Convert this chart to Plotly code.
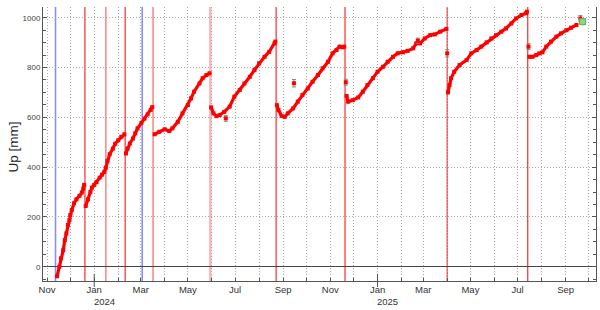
import plotly.graph_objects as go
from datetime import datetime, timedelta

# ---------------- data ----------------
dates = [
    "2023-11-14", "2023-11-17", "2023-11-19", "2023-11-22", "2023-11-24", "2023-11-26",
    "2023-11-28", "2023-11-30", "2023-12-01", "2023-12-03", "2023-12-06", "2023-12-09",
    "2023-12-13", "2023-12-16", "2023-12-18", "2023-12-19",
    "2023-12-21", "2023-12-24", "2023-12-27", "2023-12-29", "2024-01-01", "2024-01-04",
    "2024-01-08", "2024-01-11", "2024-01-14", "2024-01-16", "2024-01-18", "2024-01-21",
    "2024-01-25", "2024-01-28", "2024-02-01", "2024-02-05", "2024-02-09",
    "2024-02-11", "2024-02-13", "2024-02-16", "2024-02-20", "2024-02-23", "2024-02-26",
    "2024-03-02", "2024-03-06", "2024-03-10", "2024-03-14", "2024-03-16",
    "2024-03-19", "2024-03-25", "2024-04-01", "2024-04-07", "2024-04-11", "2024-04-18",
    "2024-04-24", "2024-05-01", "2024-05-05", "2024-05-09", "2024-05-16", "2024-05-20",
    "2024-05-25", "2024-05-29",
    "2024-05-31", "2024-06-03", "2024-06-07", "2024-06-11", "2024-06-17", "2024-06-24",
    "2024-06-30", "2024-07-07", "2024-07-13", "2024-07-20", "2024-07-26", "2024-08-01",
    "2024-08-08", "2024-08-14", "2024-08-21", "2024-08-22",
    "2024-08-24", "2024-08-26", "2024-08-30", "2024-09-03", "2024-09-07", "2024-09-14",
    "2024-09-20", "2024-09-26", "2024-10-03", "2024-10-09", "2024-10-16", "2024-10-22",
    "2024-10-29", "2024-11-04", "2024-11-09", "2024-11-13", "2024-11-17", "2024-11-19",
    "2024-11-22", "2024-11-24", "2024-11-30", "2024-12-07", "2024-12-13", "2024-12-19",
    "2024-12-26", "2025-01-01", "2025-01-08", "2025-01-14", "2025-01-21", "2025-01-27",
    "2025-02-03", "2025-02-09", "2025-02-16", "2025-02-20", "2025-02-25", "2025-03-03",
    "2025-03-10", "2025-03-16", "2025-03-23", "2025-03-31",
    "2025-04-02", "2025-04-04", "2025-04-06", "2025-04-10", "2025-04-17", "2025-04-26",
    "2025-05-02", "2025-05-09", "2025-05-15", "2025-05-22", "2025-05-28", "2025-06-03",
    "2025-06-10", "2025-06-16", "2025-06-23", "2025-06-29", "2025-07-06", "2025-07-12",
    "2025-07-13",
    "2025-07-16", "2025-07-20", "2025-07-25", "2025-07-29", "2025-08-02", "2025-08-07",
    "2025-08-13", "2025-08-20", "2025-08-26", "2025-09-02", "2025-09-08", "2025-09-15",
]
up_mm = [
    -38, 0, 34, 67, 107, 134,
    168, 188, 208, 228, 255, 271,
    285, 298, 315, 329,
    244, 271, 300, 318, 329, 340,
    358, 370, 381, 398, 425, 452,
    474, 494, 508, 522, 532,
    455, 475, 495, 515, 536, 556,
    578, 595, 612, 630, 641,
    532, 542, 552, 545, 556, 582,
    616, 649, 676, 703, 736, 757,
    770, 777,
    640, 616, 605, 609, 622, 643,
    683, 710, 736, 763, 790, 817,
    843, 863, 897, 904,
    649, 629, 606, 602, 616, 636,
    663, 690, 716, 743, 770, 797,
    823, 857, 870, 884, 881, 884,
    686, 663, 669, 680, 703, 730,
    757, 783, 803, 823, 843, 857,
    861, 867, 877, 897, 897, 917,
    930, 933, 944, 955,
    700, 730, 757, 783, 810, 830,
    857, 870, 884, 901, 917, 930,
    944, 957, 977, 997, 1011, 1018,
    1024,
    843, 843, 850, 857, 861, 884,
    904, 924, 937, 950, 960, 971,
]

outlier_dates = ["2024-06-19", "2024-09-15", "2024-11-21", "2025-02-22",
                 "2025-04-01", "2025-07-15", "2025-09-20"]
outlier_up = [596, 737, 741, 908, 857, 884, 997]
outlier_err = [12, 15, 12, 10, 15, 12, 12]

latest_date = ["2025-09-23"]
latest_up = [984]

# offsets (steps) in the series
step_dates = ["2023-12-20", "2024-02-10", "2024-03-17", "2024-05-30",
              "2024-08-23", "2024-11-20", "2025-04-01", "2025-07-14"]

# event lines
event_dates = ["2023-11-12", "2023-12-20", "2024-01-16", "2024-02-10", "2024-03-03",
               "2024-03-17", "2024-05-30", "2024-08-23", "2024-11-20", "2025-04-01",
               "2025-07-14"]
event_kinds = ["blue", "red", "light", "red", "blue",
               "light", "pink", "red", "red", "red",
               "red"]

year_labels = ["2024", "2025"]

# ---------------- build ----------------
def d(s):
    return datetime.strptime(s, "%Y-%m-%d")

steps = [d(s) for s in step_dates]
xs, ys = [], []
prev = None
for s, v in zip(dates, up_mm):
    cur = d(s)
    if prev is not None and any(prev < st <= cur for st in steps):
        xs.append(None)
        ys.append(None)
    xs.append(s)
    ys.append(v)
    prev = cur

FONT = "Liberation Sans, Arial, Helvetica, sans-serif"
GRID = "#a8a8a8"
GDASH = "1px,2px"

fig = go.Figure()
fig.add_trace(go.Scatter(
    x=xs, y=ys, mode="lines+markers", connectgaps=False,
    line=dict(color="#ff0000", width=3.2),
    marker=dict(symbol="square", size=4, color="#ff0000", line=dict(width=0)),
    hoverinfo="skip", showlegend=False,
))
fig.add_trace(go.Scatter(
    x=outlier_dates, y=outlier_up, mode="markers",
    marker=dict(symbol="square", size=4, color="#ff0000", line=dict(width=0)),
    error_y=dict(type="data", array=outlier_err, color="#888888", thickness=1, width=2),
    hoverinfo="skip", showlegend=False,
))
fig.add_trace(go.Scatter(
    x=latest_date, y=latest_up, mode="markers",
    marker=dict(symbol="square", size=6, color="#88d888", line=dict(width=1, color="#55aa55")),
    hoverinfo="skip", showlegend=False,
))

styles = {
    "blue": dict(color="#8c8cff", width=1.6),
    "red": dict(color="#ff3a3a", width=1.3),
    "light": dict(color="#ff8a8a", width=1.6),
    "pink": dict(color="#ffb4b4", width=2.5),
}
shapes = []
for ed, k in zip(event_dates, event_kinds):
    shapes.append(dict(type="line", xref="x", yref="paper", x0=ed, x1=ed, y0=0, y1=1,
                       line=styles[k], layer="below"))

annotations = []
for yl in year_labels:
    jan1 = f"{yl}-01-01"
    shapes.append(dict(type="line", xref="x", yref="paper", x0=jan1, x1=jan1,
                       y0=-0.022, y1=0.026, line=dict(color="#555555", width=1)))
    annotations.append(dict(x=(d(jan1) + timedelta(days=13)).strftime("%Y-%m-%d"),
                            y=-0.076, xref="x", yref="paper", text=yl, showarrow=False,
                            xanchor="center", yanchor="middle",
                            font=dict(size=9.5, color="#333333", family=FONT)))

annotations.append(dict(x=-0.053, y=0.49, xref="paper", yref="paper", text="Up [mm]",
                        showarrow=False, textangle=-90, xanchor="center", yanchor="middle",
                        font=dict(size=13.5, color="#222222", family=FONT)))

fig.update_layout(
    width=600, height=310,
    margin=dict(l=43, r=4, t=7, b=29),
    paper_bgcolor="white", plot_bgcolor="white",
    font=dict(family=FONT, color="#333333"),
    shapes=shapes, annotations=annotations,
    showlegend=False,
)
fig.update_xaxes(
    type="date", range=["2023-10-26 20:00", "2025-10-10 05:00"],
    tick0="2023-11-01", dtick="M2", tickformat="%b",
    ticks="inside", ticklen=3, tickcolor="#555555",
    tickfont=dict(size=9.5, color="#333333", family=FONT),
    showgrid=True, gridcolor=GRID, griddash=GDASH, gridwidth=1,
    minor=dict(dtick="M1", ticks="inside", ticklen=3, tickcolor="#555555",
               showgrid=True, gridcolor=GRID, griddash=GDASH, gridwidth=1),
    showline=True, linecolor="#555555", linewidth=1, mirror=False,
    zeroline=False,
)
fig.update_yaxes(
    range=[-57, 1043], tick0=0, dtick=200,
    ticks="inside", ticklen=4, tickcolor="#555555",
    tickfont=dict(size=8, color="#444444", family=FONT),
    showgrid=True, gridcolor=GRID, griddash=GDASH, gridwidth=1,
    minor=dict(dtick=50, ticks="inside", ticklen=3, tickcolor="#555555", showgrid=False),
    showline=True, linecolor="#555555", linewidth=1, mirror="ticks",
    zeroline=True, zerolinecolor="#444444", zerolinewidth=1,
)

fig.write_html("out.html")
